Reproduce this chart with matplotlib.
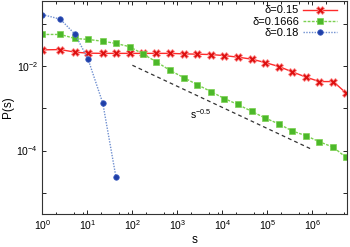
import numpy as np
import matplotlib
matplotlib.use("Agg")
import matplotlib.pyplot as plt
from matplotlib.ticker import FixedLocator, LogLocator, NullFormatter

plt.rcParams['font.family'] = ['Liberation Sans', 'DejaVu Sans']
plt.rcParams['mathtext.fontset'] = 'custom'
plt.rcParams['mathtext.rm'] = 'Liberation Sans'
plt.rcParams['mathtext.it'] = 'Liberation Sans:italic'

# bin centres (log-binned s)
s = [1, 2.5, 5.3, 10.3, 22, 43, 88, 170, 340, 690, 1400, 2780, 5550,
     11000, 22000, 45000, 89000, 180000, 355000, 720000, 1420000, 2900000, 5600000]

# log10 P(s)
logp_015 = [-1.614, -1.607, -1.668, -1.692, -1.697, -1.697, -1.697, -1.697, -1.697,
            -1.697, -1.709, -1.716, -1.725, -1.749, -1.787, -1.834, -1.915, -2.009,
            -2.135, -2.26, -2.365, -2.365, -2.64]
logp_01666 = [-1.249, -1.249, -1.344, -1.367, -1.410, -1.462, -1.540, -1.711, -1.896,
              -2.102, -2.275, -2.441, -2.602, -2.768, -2.908, -3.073, -3.230, -3.370,
              -3.536, -3.649, -3.791, -3.922, -4.164]
logp_018 = [-0.777, -0.886, -1.242, -1.827, -2.877, -4.621]

p_015 = 10 ** np.array(logp_015)
p_01666 = 10 ** np.array(logp_01666)
p_018 = 10 ** np.array(logp_018)

# guide line s^-0.5
s_guide = np.array([100, 1e6])
p_guide = 0.105 * s_guide ** -0.5

fig = plt.figure(figsize=(3.5, 2.47), dpi=100)
ax = fig.add_axes([0.121, 0.135, 0.871, 0.861])

ax.plot(s, p_015, color='#ff2a2a', lw=1.0, marker='X', ms=5.5,
        markerfacecolor='#dd1010', markeredgecolor='#ff9090', markeredgewidth=0.6,
        label='δ=0.15')
ax.plot(s, p_01666, color='#7ad050', lw=1.0, ls=(0, (2, 1)), marker='s', ms=4,
        markerfacecolor='#4cb82a', markeredgecolor='#7ad050', markeredgewidth=0.5,
        label='δ=0.1666')
ax.plot(s[:len(p_018)], p_018, color='#6f8fd0', lw=1.0, ls=(0, (1, 1)), marker='o', ms=4,
        markerfacecolor='#1f3fa8', markeredgecolor='#4060c0', markeredgewidth=0.5,
        label='δ=0.18')
ax.plot(s_guide, p_guide, color='#333333', lw=0.9, ls=(0, (3, 2.5)))
ax.text(3300, 7.2e-4, r'$\mathregular{s^{-0.5}}$', fontsize=7.5, ha='center', va='center')

ax.set_xscale('log')
ax.set_yscale('log')
ax.set_xlim(1, 5.9e6)
ax.set_ylim(3.2e-6, 0.35)

ax.xaxis.set_major_locator(FixedLocator([10.0 ** k for k in range(0, 7)]))
ax.set_xticklabels([r'$\mathregular{10^{%d}}$' % k for k in range(0, 7)])
ax.xaxis.set_minor_locator(LogLocator(base=10, subs=[2, 5, 8], numticks=20))
ax.xaxis.set_minor_formatter(NullFormatter())

yt = [1e-5, 1e-4, 1e-3, 1e-2, 1e-1]
ax.yaxis.set_major_locator(FixedLocator(yt))
ax.set_yticklabels(['', r'$\mathregular{10^{-4}}$', '', r'$\mathregular{10^{-2}}$', ''])
ax.yaxis.set_minor_locator(FixedLocator([]))

ax.tick_params(which='both', direction='in', top=True, right=True, labelsize=7.5,
               width=0.6, pad=3)
ax.tick_params(which='major', length=3)
ax.tick_params(which='minor', length=1.8)
for sp in ax.spines.values():
    sp.set_linewidth(0.8)
    sp.set_color('#333333')

ax.set_xlabel('s', fontsize=8.5, labelpad=2)
ax.set_ylabel('P(s)', fontsize=8.5, labelpad=2)

ax.legend(loc='upper right', fontsize=8, frameon=False, markerfirst=False,
          handlelength=3.0, handletextpad=0.4, labelspacing=0.1,
          borderaxespad=0.3, borderpad=0.1, bbox_to_anchor=(0.98, 1.0))

fig.savefig('out.png', dpi=100)
